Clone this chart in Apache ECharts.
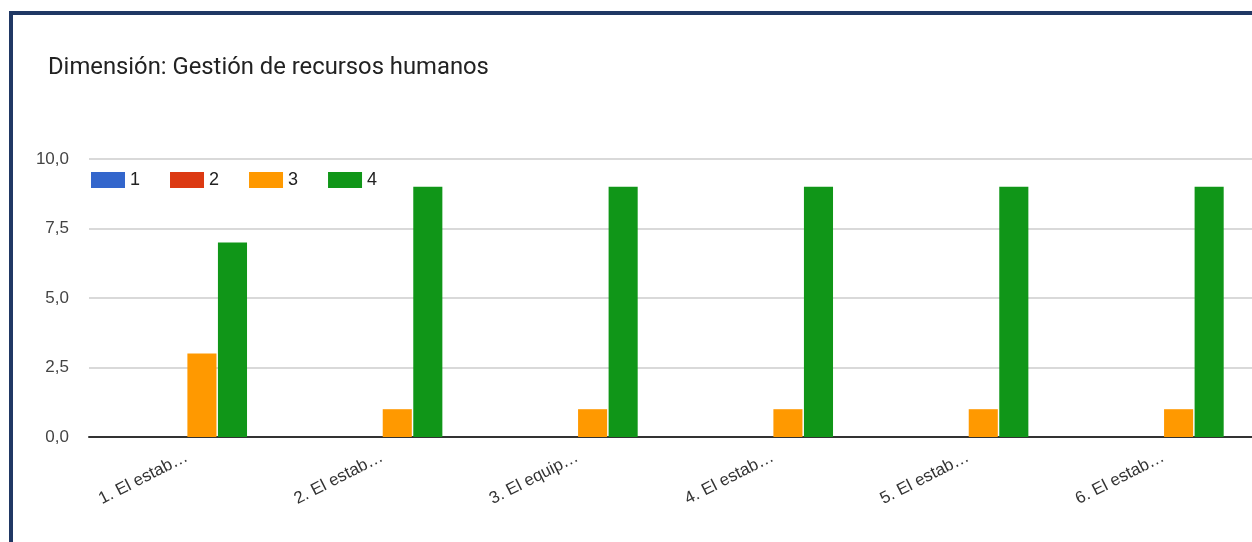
<!DOCTYPE html>
<html>
<head>
<meta charset="utf-8">
<script src="https://cdn.jsdelivr.net/npm/echarts@6/dist/echarts.min.js"></script>
<style>
html,body{margin:0;padding:0;background:#fff;overflow:hidden;width:1252px;height:542px;}
#chart{position:absolute;left:0;top:0;width:1264px;height:542px;}
#frame{position:absolute;left:9px;top:11px;width:1300px;height:600px;border-left:4px solid #203864;border-top:4px solid #203864;pointer-events:none;}
</style>
</head>
<body>
<div id="chart"></div>
<div id="frame"></div>
<script>
const titleText = 'Dimensión: Gestión de recursos humanos';
const categories = ['1. El estab…', '2. El estab…', '3. El equip…', '4. El estab…', '5. El estab…', '6. El estab…'];
const seriesNames = ['1', '2', '3', '4'];
const values1 = [0, 0, 0, 0, 0, 0];
const values2 = [0, 0, 0, 0, 0, 0];
const values3 = [3, 1, 1, 1, 1, 1];
const values4 = [7, 9, 9, 9, 9, 9];
const colors = ['#3366cc', '#dc3912', '#ff9900', '#109618'];
const yTicks = [0, 2.5, 5, 7.5, 10];

const allValues = [values1, values2, values3, values4];
const sans = '"Liberation Sans", Arial, sans-serif';
const chart = echarts.init(document.getElementById('chart'), null, {renderer: 'canvas'});
chart.setOption({
  animation: false,
  textStyle: {fontFamily: sans},
  title: {
    text: titleText, left: 43, top: 51,
    textStyle: {fontSize: 23.8, fontWeight: 'normal', color: '#222', fontFamily: 'Roboto, Arial, sans-serif'}
  },
  legend: {
    left: 86, top: 166, icon: 'rect', itemWidth: 34, itemHeight: 16, itemGap: 30,
    textStyle: {fontSize: 18, color: '#222', fontFamily: sans},
    data: seriesNames
  },
  grid: {left: 89, top: 159, bottom: 105, right: 3, containLabel: false},
  xAxis: {
    type: 'category', data: categories,
    axisTick: {show: false},
    axisLine: {lineStyle: {color: '#333', width: 2}},
    axisLabel: {rotate: 27, margin: 19, fontSize: 17, color: '#333', interval: 0, fontFamily: sans}
  },
  yAxis: {
    type: 'value', min: yTicks[0], max: yTicks[yTicks.length - 1], interval: 2.5,
    axisLine: {show: false}, axisTick: {show: false},
    splitLine: {lineStyle: {color: '#cccccc', width: 1.5}},
    axisLabel: {margin: 20, fontSize: 17, color: '#444', fontFamily: sans, formatter: v => v.toFixed(1).replace('.', ',')}
  },
  series: seriesNames.map((n, i) => ({
    name: n, type: 'bar', data: allValues[i],
    itemStyle: {color: colors[i]},
    barCategoryGap: '38.2%', barGap: '5%'
  }))
});
</script>
</body>
</html>
